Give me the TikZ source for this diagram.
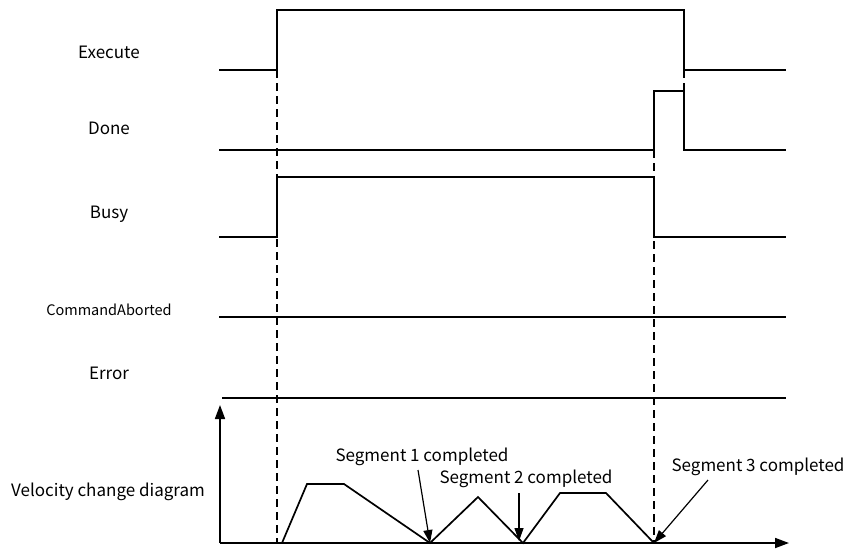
\documentclass[tikz,border=0pt]{standalone}
\usepackage{fontspec}
\setmainfont{Noto Sans CJK SC}
\usetikzlibrary{arrows.meta}
\begin{document}
\begin{tikzpicture}[x=1pt,y=-1pt,
  sig/.style={line width=1.7pt},
  dsh/.style={line width=1.1pt, dash pattern=on 8pt off 5pt},
  lbl/.style={font=\fontsize{17}{20}\selectfont, inner sep=0pt, anchor=center},
  small/.style={font=\fontsize{14.5}{17}\selectfont, inner sep=0pt, anchor=center},
  axis/.style={line width=1.7pt, -{Triangle[length=14pt,width=10pt]}},
  ann/.style={line width=1.2pt, -{Triangle[length=13pt,width=9pt]}}
]
\useasboundingbox (0,0) rectangle (850,550);
% labels
\node[lbl] (lexec) at (109,52) {Execute};
\node[lbl] (ldone) at (109,128) {Done};
\node[lbl] (lbusy) at (109,214) {Busy};
\node[small] (lcmd) at (109,310) {CommandAborted};
\node[lbl] (lerr) at (109,373) {Error};
\node[lbl] (lvel) at (108,492) {Velocity change diagram};
% dashed guides
\draw[dsh] (277,70) -- (277,543);
\draw[dsh] (654,150) -- (654,543);
\draw[dsh] (684,70) -- (684,91);
% signals
\draw[sig] (219,70) -- (277,70) -- (277,10) -- (684,10) -- (684,70) -- (786,70);
\draw[sig] (219,150) -- (654,150) -- (654,91) -- (684,91) -- (684,150) -- (786,150);
\draw[sig] (219,237) -- (277,237) -- (277,177) -- (654,177) -- (654,237) -- (786,237);
\draw[sig] (219,317) -- (786,317);
\draw[sig] (222,398) -- (786,398);
% velocity axes
\coordinate (O) at (220,543);
\draw[axis] (O) -- (220,405);
\draw[axis] (O) -- (789,543);
% velocity profile
\coordinate (s1) at (430,543);
\coordinate (s2) at (523,543);
\coordinate (s3) at (654,543);
\draw[sig] (282,543) -- (307,484) -- (344,484) -- (s1) -- (478,497) -- (s2) -- (560,493) -- (606,493) -- (s3);
% annotations
\node[lbl] (t1) at (422,457) {Segment 1 completed};
\node[lbl] (t2) at (526,479) {Segment 2 completed};
\node[lbl] (t3) at (758,467) {Segment 3 completed};
\draw[ann] (418,470) -- (s1);
\draw[ann] (519,493) -- (519,541);
\draw[ann] (708,480) -- (s3);
\end{tikzpicture}
\end{document}
